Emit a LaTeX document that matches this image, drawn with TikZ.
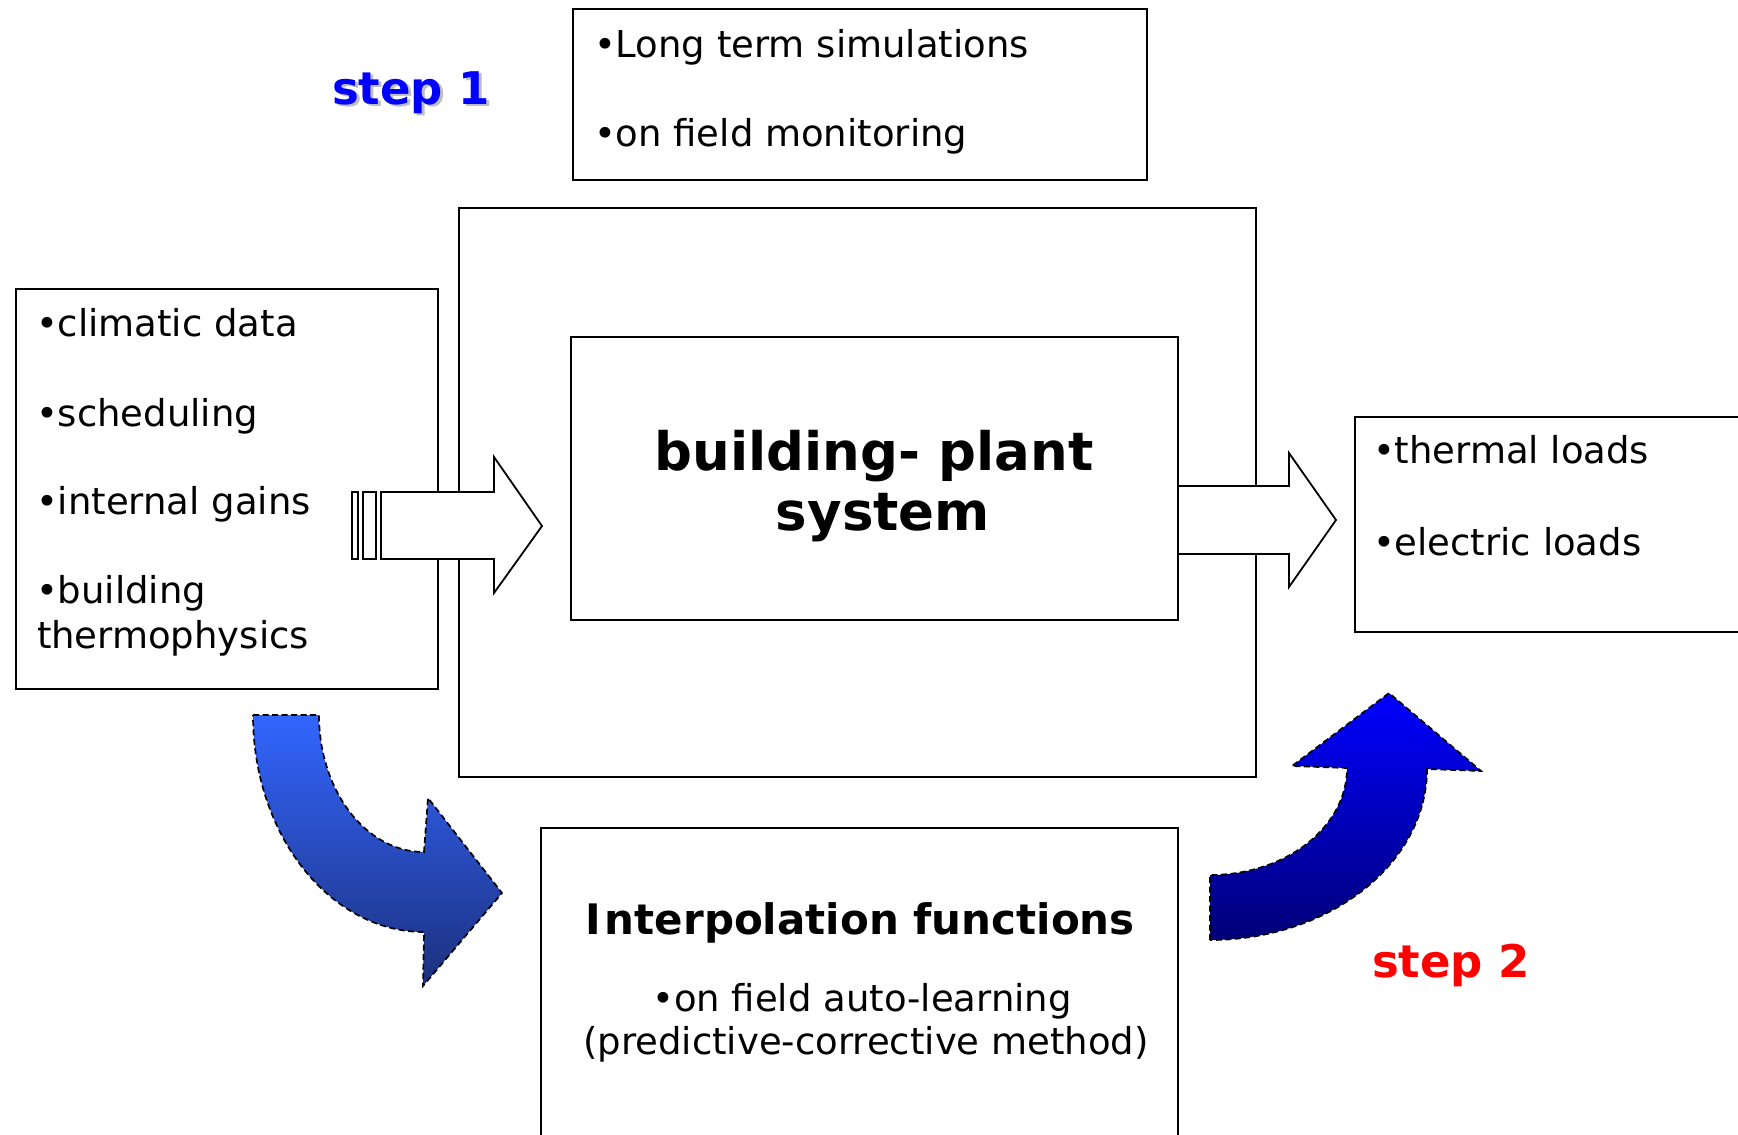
\documentclass[tikz,border=0pt]{standalone}
\usepackage{fontspec}
\setmainfont{DejaVu Sans}
\definecolor{lblueT}{RGB}{51,102,255}
\definecolor{lblueB}{RGB}{28,48,125}
\definecolor{dblueT}{RGB}{0,0,255}
\definecolor{dblueB}{RGB}{0,0,120}
\definecolor{stepblue}{RGB}{0,0,255}
\definecolor{stepred}{RGB}{255,0,0}
\definecolor{shadowgray}{RGB}{190,190,190}
\begin{document}
\begin{tikzpicture}[x=1pt,y=-1pt,
  box/.style={draw=black,line width=1.8pt},
  blockarrow/.style={draw=black,fill=white,line width=1.8pt,line join=miter},
  curvearrow/.style={draw=black,line width=1.7pt,dash pattern=on 6pt off 3.5pt},
  txt/.style={inner sep=0pt,outer sep=0pt,anchor=base west,font=\fontsize{37}{45}\selectfont},
  ctxt/.style={inner sep=0pt,outer sep=0pt,anchor=base,font=\fontsize{37}{45}\selectfont},
  titletxt/.style={inner sep=0pt,outer sep=0pt,anchor=base,font=\bfseries\fontsize{53}{60}\selectfont},
  steptxt/.style={inner sep=0pt,outer sep=0pt,anchor=base west,font=\bfseries\fontsize{45}{50}\selectfont}]
\useasboundingbox (0,0) rectangle (1738,1135);
\fill[white] (0,0) rectangle (1738,1135);

% boxes
\draw[box] (573,9) rectangle (1147,180);
\draw[box] (459,208) rectangle (1256,777);
\draw[box] (16,289) rectangle (438,689);
\draw[box] (1745,417) -- (1355,417) -- (1355,632) -- (1745,632);
\draw[box] (541,1142) -- (541,828) -- (1178,828) -- (1178,1142);

% left striped block arrow
\draw[blockarrow] (352,492) rectangle (358,559);
\draw[blockarrow] (363,492) rectangle (376,559);
\draw[blockarrow] (381,492) -- (494,492) -- (494,457) -- (542,526) -- (494,593) -- (494,559) -- (381,559) -- cycle;

% right block arrow
\draw[blockarrow] (1178,486) -- (1289,486) -- (1289,453) -- (1336,520) -- (1289,587) -- (1289,554) -- (1178,554) -- cycle;
\draw[box] (571,337) rectangle (1178,620);

% curved arrow (step 1)
\path[curvearrow,top color=lblueT,bottom color=lblueB]
  (253,715) -- (319,715) .. controls (319,791) and (366,852) .. (424,852)
  -- (428,798) -- (502,893) -- (423,986) -- (424,932)
  .. controls (330,932) and (253,835) .. (253,715) -- cycle;

% curved arrow (step 2)
\path[curvearrow,top color=dblueT,bottom color=dblueB]
  (1210,940) -- (1210,875) .. controls (1286,875) and (1347,827) .. (1347,768)
  -- (1292,766) -- (1389,693) -- (1481,771) -- (1427,769)
  .. controls (1427,863) and (1330,940) .. (1210,940) -- cycle;

% texts
\node[txt] (t1) at (594,57) {•Long term simulations};
\node[txt] (t2) at (594,146) {•on field monitoring};

\node[txt] (l1) at (36,336) {•climatic data};
\node[txt] (l2) at (36,426) {•scheduling};
\node[txt] (l3) at (36,514) {•internal gains};
\node[txt] (l4) at (36,603) {•building};
\node[txt] (l5) at (37,648) {thermophysics};

\node[txt] (r1) at (1373,463) {•thermal loads};
\node[txt] (r2) at (1373,555) {•electric loads};

\node[titletxt] (s1) at (874,470) {building- plant};
\node[titletxt] (s2) at (883,530) {system};

\node[ctxt,font=\bfseries\fontsize{42}{48}\selectfont] (b1) at (860,934) {I\kern4pt nterpolation functions};
\node[ctxt] (b2) at (862,1011) {•on field auto-learning};
\node[ctxt] (b3) at (866,1054) {(predictive-corrective method)};

\node[steptxt,text=shadowgray] (st1s) at (335,106) {step 1};
\node[steptxt,text=stepblue] (st1) at (332,104) {step 1};
\node[steptxt,text=stepred] (st2) at (1372,977) {step 2};
\end{tikzpicture}
\end{document}
